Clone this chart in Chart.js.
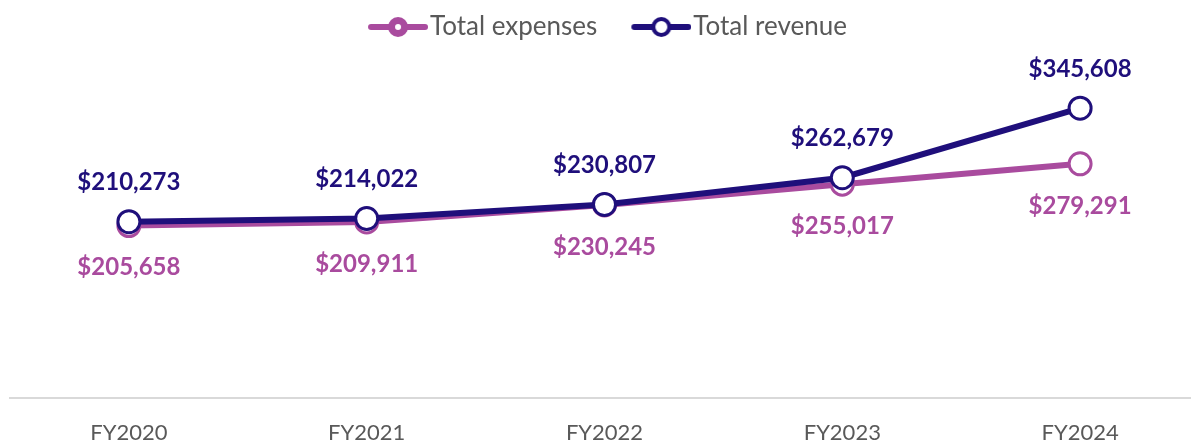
<!DOCTYPE html>
<html>
<head>
<meta charset="utf-8">
<script src="https://cdn.jsdelivr.net/npm/chart.js@4"></script>
<style>
  html, body { margin: 0; padding: 0; background: #fff; overflow: hidden; }
  canvas { display: block; }
</style>
</head>
<body>
<canvas id="chart" width="1191" height="443"></canvas>
<script>
// dados
const years = ['FY2020', 'FY2021', 'FY2022', 'FY2023', 'FY2024'];
const expenses = [205658, 209911, 230245, 255017, 279291];
const revenue = [210273, 214022, 230807, 262679, 345608];

const expColor = '#A94B9E';
const revColor = '#1F0F7B';
const fontFamily = 'Lato, "Open Sans", sans-serif';

function money(v) {
    return '$' + v.toLocaleString('en-US');
}

// icone da legenda: espaco em branco a esquerda + linha com circulo
function legendIcon(color, ring) {
    const c = document.createElement('canvas');
    c.width = 95; c.height = 24;
    const ctx = c.getContext('2d');
    ctx.strokeStyle = color;
    ctx.lineCap = 'round';
    ctx.lineWidth = 6;
    ctx.beginPath(); ctx.moveTo(38, 12); ctx.lineTo(92, 12); ctx.stroke();
    ctx.beginPath(); ctx.arc(65, 12, 9 - ring / 2 + 1, 0, Math.PI * 2);
    ctx.fillStyle = '#fff'; ctx.fill();
    ctx.lineWidth = ring; ctx.stroke();
    return c;
}

// area do grafico passa um pouco da borda direita, como no original
const stretchArea = {
    id: 'stretchArea',
    afterLayout(chart) {
        const x = chart.scales.x;
        chart.chartArea.left = 10;
        chart.chartArea.right = 1199;
        chart.chartArea.width = 1189;
        x.left = 10;
        x.right = 1199;
        x.width = 1189;
        x.configure();
    }
};

// rotulos de valor
const valueLabels = {
    id: 'valueLabels',
    afterDatasetsDraw(chart) {
        const ctx = chart.ctx;
        ctx.save();
        ctx.font = 'bold 24px ' + fontFamily;
        ctx.textAlign = 'center';
        ctx.textBaseline = 'middle';
        chart.data.datasets.forEach((ds, i) => {
            const meta = chart.getDatasetMeta(i);
            ctx.fillStyle = ds.borderColor;
            meta.data.forEach((pt, j) => {
                const off = ds.labelPos === 'above' ? -39 : 42;
                ctx.fillText(money(ds.data[j]), pt.x, pt.y + off);
            });
        });
        ctx.restore();
    }
};

const ctx = document.getElementById('chart').getContext('2d');
new Chart(ctx, {
    type: 'line',
    data: {
        labels: years,
        datasets: [{
            label: 'Total expenses',
            data: expenses,
            borderColor: expColor,
            backgroundColor: '#fff',
            borderWidth: 6,
            pointRadius: 11,
            pointBorderWidth: 3,
            pointBackgroundColor: '#fff',
            pointBorderColor: expColor,
            labelPos: 'below',
            iconRing: 7,
            order: 2
        }, {
            label: 'Total revenue',
            data: revenue,
            borderColor: revColor,
            backgroundColor: '#fff',
            borderWidth: 6,
            pointRadius: 11,
            pointBorderWidth: 3,
            pointBackgroundColor: '#fff',
            pointBorderColor: revColor,
            labelPos: 'above',
            iconRing: 4,
            order: 1
        }]
    },
    options: {
        responsive: false,
        animation: false,
        layout: { autoPadding: false, padding: { left: 0, right: 0, top: 4, bottom: 0 } },
        plugins: {
            tooltip: { enabled: false },
            legend: {
                position: 'top',
                labels: {
                    usePointStyle: true,
                    pointStyleWidth: 73,
                    boxHeight: 22,
                    padding: 10,
                    color: '#595959',
                    font: { family: fontFamily, size: 26 },
                    sort: (a, b) => a.datasetIndex - b.datasetIndex,
                    generateLabels(chart) {
                        return chart.data.datasets.map((ds, i) => ({
                            text: ds.label,
                            fontColor: '#595959',
                            pointStyle: legendIcon(ds.borderColor, ds.iconRing),
                            datasetIndex: i,
                            lineWidth: 0,
                            strokeStyle: 'transparent',
                            fillStyle: 'transparent'
                        }));
                    }
                }
            }
        },
        scales: {
            x: {
                offset: true,
                grid: { display: false, drawTicks: false },
                border: { display: true, color: '#D9D9D9', width: 2 },
                ticks: {
                    color: '#595959',
                    padding: 22,
                    font: { family: fontFamily, size: 22 }
                },
                afterFit(scale) { scale.height = 45; }
            },
            y: {
                display: false,
                min: 0,
                max: 415000
            }
        }
    },
    plugins: [stretchArea, valueLabels]
});
</script>
</body>
</html>
